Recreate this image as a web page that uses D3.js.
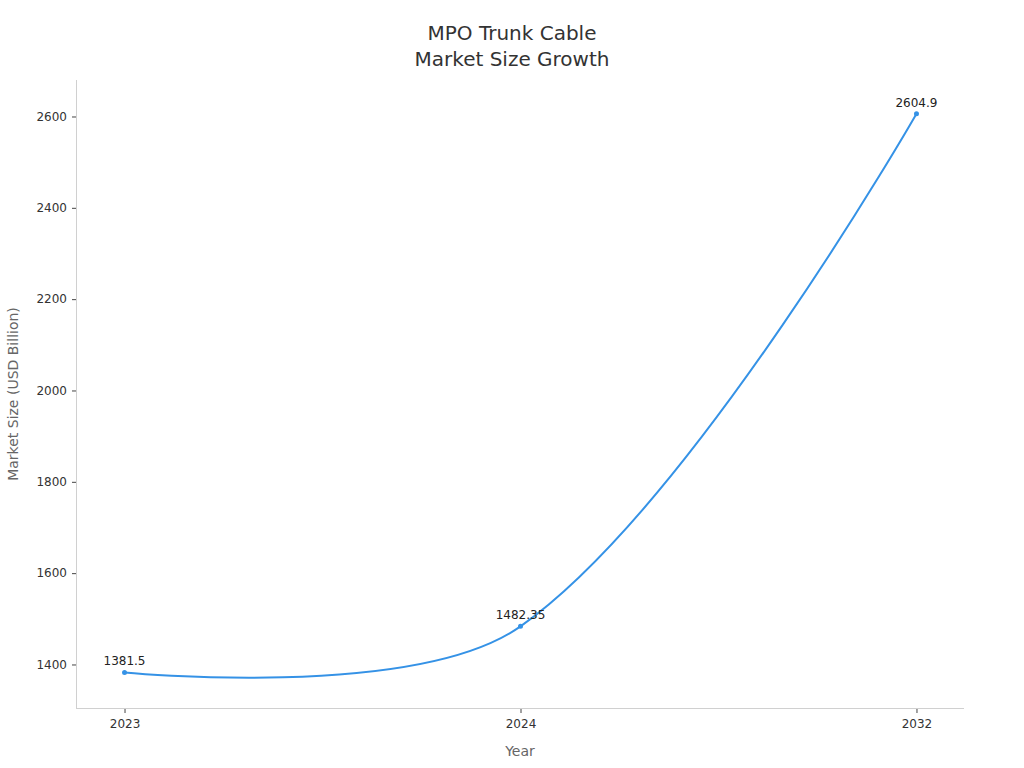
<!DOCTYPE html>
<html><head><meta charset="utf-8">
<script src="https://cdn.jsdelivr.net/npm/d3@7"></script>
<style>body{margin:0;background:#fff;} text{font-family:"DejaVu Sans",sans-serif;}</style>
</head><body>
<svg id="chart" width="1024" height="768"></svg>
<script>
const years = ["2023", "2024", "2032"];
const marketSize = [1381.5, 1482.35, 2604.9];
const valueLabels = ["1381.5", "1482.35", "2604.9"];
const yTicks = [1400, 1600, 1800, 2000, 2200, 2400, 2600];
const titleLines = ["MPO Trunk Cable", "Market Size Growth"];

(function () {
// chord-length weighted smoothing curve (control points at the ends coincide with the end points)
function SmoothCurve(context, smooth) { this._context = context; this._smooth = smooth; }
SmoothCurve.prototype = {
  areaStart() { this._line = 0; },
  areaEnd() { this._line = NaN; },
  lineStart() { this._pts = []; },
  point(x, y) { this._pts.push([+x, +y]); },
  lineEnd() {
    const p = this._pts, n = p.length, s = this._smooth, ctx = this._context;
    if (!n) return;
    if (this._line) ctx.lineTo(p[0][0], p[0][1]); else ctx.moveTo(p[0][0], p[0][1]);
    let cx = p[0][0], cy = p[0][1];
    for (let i = 1; i < n; i++) {
      const [x, y] = p[i], [px, py] = p[i - 1];
      let ncx = x, ncy = y, vx = 0, vy = 0, ratio = 0.5;
      if (i + 1 < n) {
        const [nx, ny] = p[i + 1];
        vx = nx - px; vy = ny - py;
        const lp = Math.hypot(x - px, y - py), ln = Math.hypot(nx - x, ny - y);
        ratio = ln / (ln + lp);
        ncx = x - vx * s * (1 - ratio); ncy = y - vy * s * (1 - ratio);
      }
      ctx.bezierCurveTo(cx, cy, ncx, ncy, x, y);
      cx = x + vx * s * ratio; cy = y + vy * s * ratio;
    }
    this._line = 1 - this._line;
  }
};
const smoothCurve = ctx => new SmoothCurve(ctx, 0.35);

const svg = d3.select("#chart");
const mLeft = 76, mRight = 963, mTop = 80, mBottom = 708;

const x = d3.scalePoint().domain(years).range([mLeft + 1, mRight + 1]).padding(0.12);
const y = d3.scaleLinear().domain([1303.6, 2678.8]).range([mBottom, mTop]);

svg.append("line").attr("x1", mLeft + 0.5).attr("x2", mLeft + 0.5).attr("y1", mTop).attr("y2", mBottom)
  .attr("stroke", "#d0d0d0").attr("stroke-width", 1);
svg.append("line").attr("x1", mLeft).attr("x2", mRight + 1).attr("y1", mBottom + 0.5).attr("y2", mBottom + 0.5)
  .attr("stroke", "#d0d0d0").attr("stroke-width", 1);

const yAxis = svg.append("g").attr("transform", `translate(${mLeft},0.5)`)
  .call(d3.axisLeft(y).tickValues(yTicks).tickSize(4).tickPadding(5).tickFormat(d3.format("d")));
yAxis.select(".domain").remove();
yAxis.selectAll(".tick line").attr("stroke", "#444");
yAxis.selectAll(".tick text").attr("fill", "#333").style("font-size", "12px").style("font-family", "DejaVu Sans");

const xAxis = svg.append("g").attr("transform", `translate(0,${mBottom + 1})`)
  .call(d3.axisBottom(x).tickSize(4).tickPadding(6));
xAxis.select(".domain").remove();
xAxis.selectAll(".tick line").attr("stroke", "#444");
xAxis.selectAll(".tick text").attr("fill", "#333").style("font-size", "12px").style("font-family", "DejaVu Sans");

const data = years.map((yr, i) => ({yr, v: marketSize[i], label: valueLabels[i]}));

const line = d3.line().x(d => x(d.yr)).y(d => y(d.v)).curve(smoothCurve);
svg.append("path").datum(data).attr("d", line)
  .attr("fill", "none").attr("stroke", "#3592e6").attr("stroke-width", 2);

svg.selectAll("circle.pt").data(data).join("circle").attr("class", "pt")
  .attr("cx", d => x(d.yr)).attr("cy", d => y(d.v)).attr("r", 2.5).attr("fill", "#3592e6");

svg.selectAll("text.lbl").data(data).join("text").attr("class", "lbl")
  .attr("x", d => x(d.yr)).attr("y", d => y(d.v) - 7)
  .attr("text-anchor", "middle").attr("fill", "#222").style("font-size", "12px").text(d => d.label);

svg.selectAll("text.title").data(titleLines).join("text").attr("class", "title")
  .attr("x", 512).attr("y", (d, i) => 40 + i * 26)
  .attr("text-anchor", "middle").attr("fill", "#333").style("font-size", "20px").text(d => d);

svg.append("text").attr("x", 520).attr("y", 756).attr("text-anchor", "middle")
  .attr("fill", "#666").style("font-size", "14px").text("Year");
svg.append("text").attr("transform", "translate(18,394) rotate(-90)").attr("text-anchor", "middle")
  .attr("fill", "#666").style("font-size", "14px").text("Market Size (USD Billion)");
})();
</script>
</body></html>
